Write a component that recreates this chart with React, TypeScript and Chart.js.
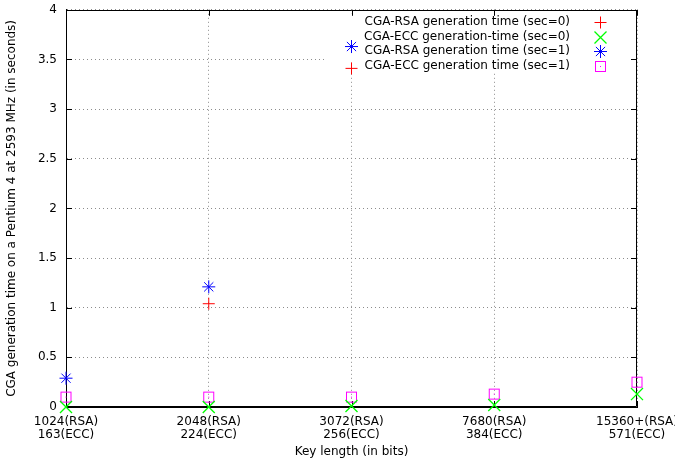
import React, { useEffect, useRef } from "react";
import { Chart, registerables } from "chart.js";

Chart.register(...registerables);

const categories: string[][] = [
  ["1024(RSA)", "163(ECC)"],
  ["2048(RSA)", "224(ECC)"],
  ["3072(RSA)", "256(ECC)"],
  ["7680(RSA)", "384(ECC)"],
  ["15360+(RSA)", "571(ECC)"],
];

const rsaSec0: (number | null)[] = [null, 1.04, 3.41, null, null];
const eccSec0: (number | null)[] = [0.0, 0.0, 0.01, 0.02, 0.13];
const rsaSec1: (number | null)[] = [0.29, 1.21, 3.63, null, null];
const eccSec1: (number | null)[] = [0.1, 0.1, 0.1, 0.13, 0.25];

const seriesLabels = [
  "CGA-RSA generation time (sec=0)",
  "CGA-ECC generation-time (sec=0)",
  "CGA-RSA generation time (sec=1)",
  "CGA-ECC generation time (sec=1)",
];

const yTitle = "CGA generation time on a Pentium 4 at 2593 MHz (in seconds)";
const xTitle = "Key length (in bits)";

const FONT = '"DejaVu Sans", sans-serif';

function makeSquare(): HTMLCanvasElement {
  const c = document.createElement("canvas");
  c.width = 13;
  c.height = 13;
  const g = c.getContext("2d")!;
  g.strokeStyle = "#ff00ff";
  g.lineWidth = 1;
  g.strokeRect(1.5, 1.5, 10, 10);
  g.fillStyle = "#ff00ff";
  g.fillRect(6, 6, 1, 1);
  return c;
}

function drawSymbol(ctx: CanvasRenderingContext2D, kind: number, x: number, y: number, sq: HTMLCanvasElement) {
  ctx.save();
  ctx.lineWidth = 1;
  if (kind === 0) {
    ctx.strokeStyle = "#ff0000";
    ctx.beginPath();
    ctx.moveTo(x - 6, y);
    ctx.lineTo(x + 6, y);
    ctx.moveTo(x, y - 6);
    ctx.lineTo(x, y + 6);
    ctx.stroke();
  } else if (kind === 1) {
    ctx.strokeStyle = "#00ff00";
    ctx.lineWidth = 1.3;
    ctx.beginPath();
    ctx.moveTo(x - 6, y - 6);
    ctx.lineTo(x + 6, y + 6);
    ctx.moveTo(x - 6, y + 6);
    ctx.lineTo(x + 6, y - 6);
    ctx.stroke();
  } else if (kind === 2) {
    ctx.strokeStyle = "#0000ff";
    ctx.beginPath();
    ctx.moveTo(x - 6.5, y);
    ctx.lineTo(x + 6.5, y);
    ctx.moveTo(x, y - 6.5);
    ctx.lineTo(x, y + 6.5);
    ctx.moveTo(x - 4.6, y - 4.6);
    ctx.lineTo(x + 4.6, y + 4.6);
    ctx.moveTo(x - 4.6, y + 4.6);
    ctx.lineTo(x + 4.6, y - 4.6);
    ctx.stroke();
  } else {
    ctx.drawImage(sq, Math.round(x - sq.width / 2), Math.round(y - sq.height / 2));
  }
  ctx.restore();
}

export default function App() {
  const ref = useRef<HTMLCanvasElement | null>(null);

  useEffect(() => {
    document.body.style.margin = "0";
    const canvas = ref.current;
    if (!canvas) return;
    const sq = makeSquare();

    const framePlugin = {
      id: "gnuframe",
      beforeDatasetsDraw(chart: any) {
        const { ctx, chartArea } = chart;
        const { left, right, top, bottom } = chartArea;
        const xs = chart.scales.x;
        const ys = chart.scales.y;
        ctx.save();
        // key background
        ctx.fillStyle = "#ffffff";
        ctx.fillRect(326, 14, right - 1 - 326, 59);
        // key text + symbols
        ctx.font = "12px " + FONT;
        ctx.fillStyle = "#000000";
        ctx.textAlign = "right";
        ctx.textBaseline = "middle";
        seriesLabels.forEach((t, i) => {
          const yy = 22 + i * 14.6;
          ctx.fillText(t, 570, yy);
          drawSymbol(ctx, i, 600.5, Math.round(yy) + 0.5, sq);
        });
        // border
        ctx.strokeStyle = "#000000";
        ctx.lineWidth = 1;
        ctx.beginPath();
        ctx.rect(Math.round(left) + 0.5, Math.round(top) + 0.5, Math.round(right - left) - 1, Math.round(bottom - top) - 1);
        ctx.stroke();
        // inward ticks
        ctx.beginPath();
        const tl = 6;
        ys.ticks.forEach((t: any) => {
          const py = Math.round(ys.getPixelForValue(t.value)) + 0.5;
          ctx.moveTo(left, py);
          ctx.lineTo(left + tl, py);
          ctx.moveTo(right, py);
          ctx.lineTo(right - tl, py);
        });
        categories.forEach((_, i) => {
          const px = Math.round(xs.getPixelForValue(i)) + 0.5;
          ctx.moveTo(px, bottom);
          ctx.lineTo(px, bottom - tl);
          ctx.moveTo(px, top);
          ctx.lineTo(px, top + tl);
        });
        ctx.stroke();
        ctx.restore();
      },
    };

    const chart = new Chart(canvas, {
      type: "line",
      data: {
        labels: categories,
        datasets: [
          {
            label: seriesLabels[0],
            data: rsaSec0,
            showLine: false,
            pointStyle: "cross",
            pointRadius: 6,
            pointBorderColor: "#ff0000",
            pointBackgroundColor: "#ff0000",
            pointBorderWidth: 1,
            clip: false,
          },
          {
            label: seriesLabels[1],
            data: eccSec0,
            showLine: false,
            pointStyle: "crossRot",
            pointRadius: 8.5,
            pointBorderColor: "#00ff00",
            pointBackgroundColor: "#00ff00",
            pointBorderWidth: 1.3,
            clip: false,
          },
          {
            label: seriesLabels[2],
            data: rsaSec1,
            showLine: false,
            pointStyle: "star",
            pointRadius: 6.5,
            pointBorderColor: "#0000ff",
            pointBackgroundColor: "#0000ff",
            pointBorderWidth: 1,
            clip: false,
          },
          {
            label: seriesLabels[3],
            data: eccSec1,
            showLine: false,
            pointStyle: sq,
            pointRadius: 6,
            clip: false,
          },
        ] as any,
      },
      plugins: [framePlugin],
      options: {
        animation: false,
        responsive: false,
        devicePixelRatio: 1,
        layout: { padding: { top: 9, right: 38, left: 0, bottom: 0 } },
        plugins: {
          legend: { display: false },
          tooltip: { enabled: false },
        },
        scales: {
          x: {
            type: "category",
            offset: false,
            afterFit: (s: any) => {
              s.height = 59;
              s.paddingLeft = 0;
              s.paddingRight = 0;
            },
            grid: {
              display: true,
              color: "#8c8c8c",
              drawTicks: false,
              lineWidth: 1,
            },
            border: { display: true, color: "#000000", width: 1, dash: [1, 3] },
            ticks: {
              color: "#000000",
              padding: 8,
              font: { family: FONT, size: 12, lineHeight: 1.1 },
              maxRotation: 0,
              autoSkip: false,
            },
            title: {
              display: true,
              text: xTitle,
              color: "#000000",
              font: { family: FONT, size: 12 },
              padding: { top: 0, bottom: 7 },
            },
          },
          y: {
            type: "linear",
            min: 0,
            max: 4,
            afterFit: (s: any) => {
              s.width = 66;
              s.paddingTop = 0;
              s.paddingBottom = 0;
            },
            grid: {
              display: true,
              color: "#8c8c8c",
              drawTicks: false,
              lineWidth: 1,
            },
            border: { display: true, color: "#000000", width: 1, dash: [1, 3] },
            ticks: {
              stepSize: 0.5,
              color: "#000000",
              padding: 9,
              font: { family: FONT, size: 12 },
              callback: (v: any) => String(Number(v)),
            },
            title: {
              display: true,
              text: yTitle,
              color: "#000000",
              font: { family: FONT, size: 12 },
              padding: { top: 5, bottom: 0 },
            },
          },
        },
      } as any,
    });

    return () => {
      chart.destroy();
    };
  }, []);

  return (
    <div style={{ width: 675, height: 466 }}>
      <canvas ref={ref} width={675} height={466} style={{ display: "block" }} />
    </div>
  );
}
